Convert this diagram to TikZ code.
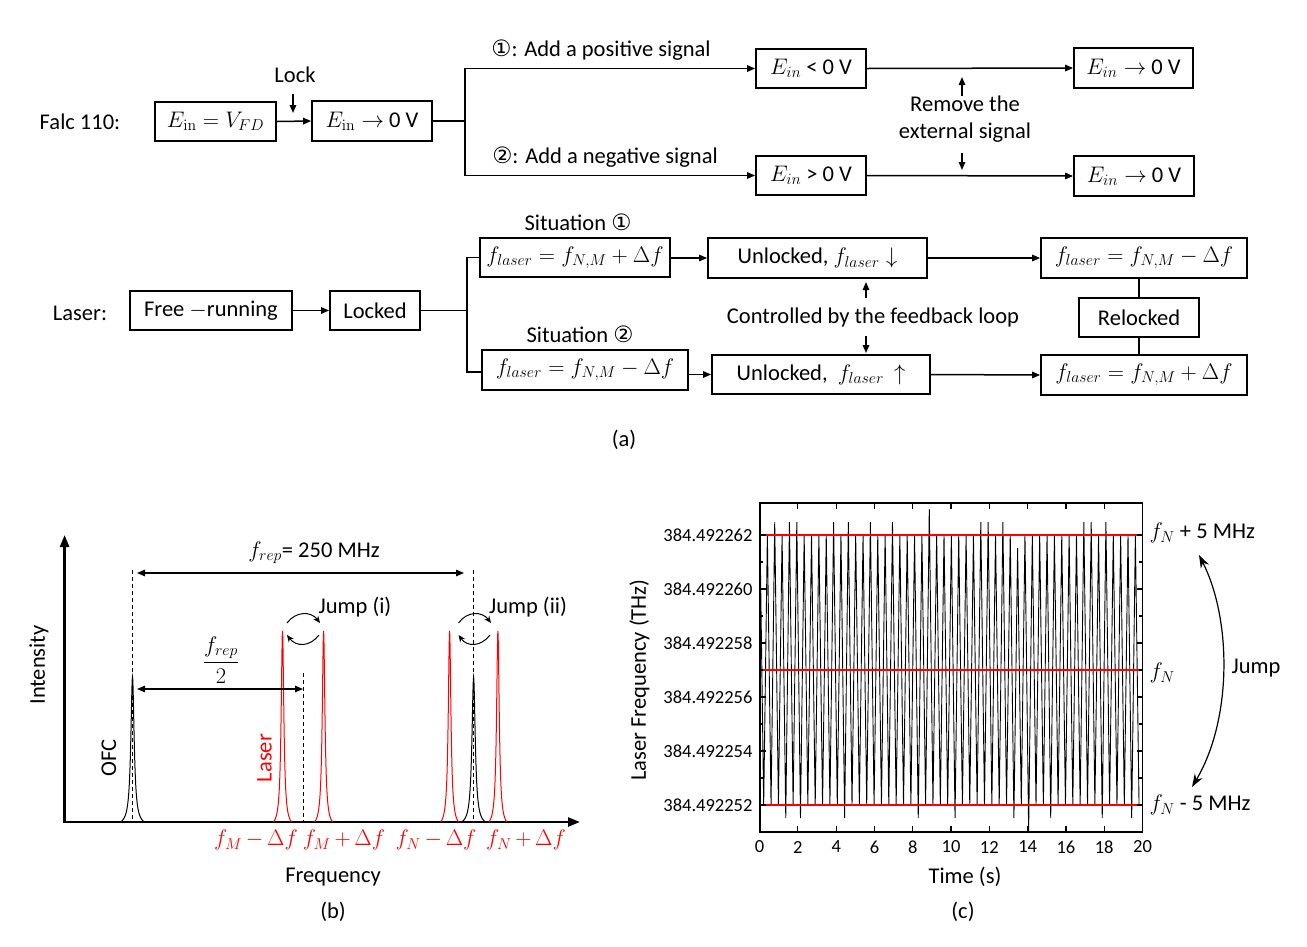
\RequirePackage{fix-cm}
\documentclass[tikz,border=0pt]{standalone}
\usepackage{amsmath}
\usepackage[no-math]{fontspec}
\setmainfont{Carlito}
\newfontfamily\symf{DejaVu Sans}
\usetikzlibrary{arrows.meta}
\tikzset{
  box/.style={draw, line width=1.8pt, inner sep=0pt, align=center},
  ln/.style={line width=1.5pt},
  arr/.style={ln, -{Triangle[length=8pt,width=6.5pt]}},
  dbl/.style={line width=1.2pt, {Triangle[length=8pt,width=6.5pt]}-{Triangle[length=8pt,width=6.5pt]}},
  pk/.style={line width=1pt},
  dsh/.style={line width=1pt, dashed, dash pattern=on 4pt off 3pt},
  jmp/.style={line width=1pt, -{Stealth[length=7pt,width=6pt]}},
  tick/.style={font=\fontsize{18.5}{22}\selectfont},
  redline/.style={line width=2pt, red},
  flab/.style={red, execute at begin node={\medmuskip=3mu}},
}
\begin{document}
\begin{tikzpicture}[x=1pt, y=-1pt, font=\fontsize{22.5}{27}\selectfont]
\useasboundingbox (0,0) rectangle (1307,946);

% ================= (a) top: Falc 110 =================
\node (falc) at (80,122) {Falc 110:};
\node[box, minimum width=121pt, minimum height=39pt] (A1) at (215.5,121.5) {$E_{\mathrm{in}} = V_{FD}$};
\node[box, minimum width=120pt, minimum height=40pt] (A2) at (372,121) {$E_{\mathrm{in}} \rightarrow$ 0 V};
\node (lock) at (295,75) {Lock};
\coordinate (lockA) at (293,94);
\coordinate (lockB) at (293,113);
\draw[arr] (A1.east) -- (A2.west);
\draw[arr] (lockA) -- (lockB);

\node[box, minimum width=110pt, minimum height=39pt] (B1) at (811,68.5) {$E_{in}$ < 0 V};
\node[box, minimum width=110pt, minimum height=39pt] (B2) at (811,175.5) {$E_{in}$ > 0 V};
\node[box, minimum width=119pt, minimum height=40pt] (C1) at (1133.5,68) {$E_{in} \rightarrow$ 0 V};
\node[box, minimum width=120pt, minimum height=40pt] (C2) at (1134,176) {$E_{in} \rightarrow$ 0 V};
\node (pos) at (601,50) {{\symf ①}: Add a positive signal};
\node (neg) at (605,157) {{\symf ②}: Add a negative signal};

\draw[ln] (A2.east) -- (465,121) coordinate (j1);
\draw[arr] (j1) |- (B1.west);
\draw[arr] (j1) |- (B2.west);
\draw[arr] (B1.east) -- (C1.west);
\draw[arr] (B2.east) -- (C2.west);

\node[align=center, inner sep=0pt] (remove) at (965,119) {Remove the\\external signal};
\coordinate (remA) at (962,96);
\coordinate (remB) at (962,77);
\coordinate (remC) at (962,153);
\coordinate (remD) at (962,170);
\draw[arr] (remA) -- (remB);
\draw[arr] (remC) -- (remD);

% ================= (a) bottom: Laser =================
\node (laser) at (80,313) {Laser:};
\node[box, minimum width=162pt, minimum height=39pt] (D1) at (211,310.5) {Free $-$running};
\node[box, minimum width=90pt, minimum height=39pt] (D2) at (375,310.5) {Locked};
\draw[arr] (D1.east) -- (D2.west);

\node[box, minimum width=190pt, minimum height=39pt] (E1) at (575,257.5) {$f_{laser} = f_{N,M} + \Delta f$};
\node[box, minimum width=206pt, minimum height=40pt] (E2) at (585,370) {$f_{laser} = f_{N,M} - \Delta f$};
\node (sit1) at (578,222) {Situation {\symf ①}};
\node (sit2) at (580,334) {Situation {\symf ②}};

\draw[ln] (D2.east) -- (467,310.5) coordinate (j2);
\draw[ln] (j2) |- (E1.west);
\draw[ln] (j2) |- ([yshift=-2pt]E2.west);

\node[box, minimum width=219pt, minimum height=40pt] (F1) at (817.5,258) {Unlocked, $f_{laser}\downarrow$};
\node[box, minimum width=218pt, minimum height=39pt] (F2) at (821,374.5) {Unlocked, \ $f_{laser}\,\uparrow$};
\draw[arr] (E1.east |- F1.west) -- (F1.west);
\draw[arr] (E2.east |- F2.west) -- (F2.west);

\node (ctrl) at (873,317) {Controlled by the feedback loop};
\coordinate (ctA) at (866,298);
\coordinate (ctB) at (866,282);
\coordinate (ctC) at (866,336);
\coordinate (ctD) at (866,353);
\draw[arr] (ctA) -- (ctB);
\draw[arr] (ctC) -- (ctD);

\node[box, minimum width=206pt, minimum height=40pt] (G1) at (1144,258) {$f_{laser} = f_{N,M} - \Delta f$};
\node[box, minimum width=206pt, minimum height=40pt] (G2) at (1144,375) {$f_{laser} = f_{N,M} + \Delta f$};
\node[box, minimum width=120pt, minimum height=39pt] (R) at (1139,317.5) {Relocked};
\draw[arr] (F1.east) -- (G1.west);
\draw[arr] (F2.east) -- (G2.west);
\draw[ln] (G1.south -| R.north) -- (R.north);
\draw[ln] (R.south) -- (G2.north -| R.south);

\node (capa) at (624,440) {(a)};

% ================= (b) =================
\draw[line width=2.5pt, {Triangle[length=12pt,width=9pt]}-{Triangle[length=12pt,width=9pt]}] (64.6,535) -- (64.6,822) -- (580,822);
\node[rotate=90] (inten) at (39,665) {Intensity};
\node (freq) at (333,877) {Frequency};
\node (capb) at (333,912) {(b)};

% comb lines (black)
\foreach \c in {132.5,473.6}
  \draw[pk] plot[domain=-12:12, samples=97] ({\c+\x},{822-145*(4/(\x*\x+4)-0.02703)/0.97297});
% laser lines (red)
\foreach \c in {282.5,323.6,449.6,497.9}
  \draw[pk, red] plot[domain=-9:9, samples=73] ({\c+\x},{822-191*(2.56/(\x*\x+2.56)-0.03064)/0.96936});

\draw[dsh] (132.5,570) -- (132.5,822);
\draw[dsh] (473.6,570) -- (473.6,822);
\draw[dsh] (303,673) -- (303,822);

\coordinate (fr1) at (137,573);
\coordinate (fr2) at (464,573);
\draw[dbl] (fr1) -- (fr2);
\node (frep) at (314,553) {$f_{rep}$= 250 MHz};
\coordinate (fh1) at (137,689);
\coordinate (fh2) at (303,689);
\draw[dbl] (fh1) -- (fh2);
\node (frep2) at (221,660) {$\dfrac{f_{rep}}{2}$};

\node[rotate=90] (ofc) at (109,758) {OFC};
\node[rotate=90, red] (las) at (264.6,758) {Laser};

\draw[jmp] (287,623) .. controls (296,611) and (311,611) .. (320,623);
\draw[jmp] (319,635) .. controls (310,647) and (296,647) .. (287,635);
\node (j1lab) at (355,607) {Jump (i)};
\draw[jmp] (458.6,623) .. controls (467,611) and (482,611) .. (491,623);
\draw[jmp] (490,635) .. controls (481,647) and (467,647) .. (458.6,635);
\node (j2lab) at (528,607) {Jump (ii)};

\node[flab] (l1) at (256,840) {$f_M - \Delta f$};
\node[flab] (l2) at (344,840) {$f_M + \Delta f$};
\node[flab] (l3) at (436,840) {$f_N - \Delta f$};
\node[flab] (l4) at (526,840) {$f_N + \Delta f$};

% ================= (c) =================
\begin{scope}
\clip (759.6,503) rectangle (1142.5,832);
\draw[line width=0.9pt] (760,670)
  \foreach \i/\t/\b in {0/0/0,1/0/0,2/1/0,3/0/1,4/1/0,5/1/1,6/0/0,7/0/0,8/0/0,9/0/0,10/1/0,11/0/1,12/1/0,13/0/0,14/0/0,15/1/0,16/0/0,17/0/0,18/1/0,19/0/0,20/0/0,21/0/1,22/0/0,23/2/0,24/0/0,25/0/0,26/0/1,27/0/0,28/0/0,29/0/0,30/1/0,31/1/0,32/0/0,33/1/0,34/0/1,35/-1/0,36/0/2,37/0/0,38/0/0,39/0/1,40/0/0,41/0/0,42/0/0,43/0/0,44/1/0,45/1/0,46/0/1,47/1/0,48/0/0,49/0/0,50/0/1,51/0/0}
  { -- ({760+\i*7.36},{535-13*(\t)}) -- ({763.68+\i*7.36},{805+13*(\b)}) };
\end{scope}
\draw[redline] (759.6,535) -- (1142.5,535);
\draw[redline] (759.6,670) -- (1142.5,670);
\draw[redline] (759.6,805) -- (1142.5,805);
\draw[line width=1.8pt] (759.6,503) rectangle (1142.5,832);

\foreach \y/\l in {535/262,589/260,643/258,697/256,751/254,805/252} {
  \draw[line width=1.2pt] (759.6,\y) -- ++(6,0);
  \draw[line width=1.2pt] (1142.5,\y) -- ++(-6,0);
  \node[tick, anchor=east] at (756,\y) {384.492\l};
}
\foreach \y in {562,616,670,724,778} {
  \draw[line width=1.2pt] (759.6,\y) -- ++(3.5,0);
  \draw[line width=1.2pt] (1142.5,\y) -- ++(-3.5,0);
}
\foreach \t in {0,2,...,20} {
  \draw[line width=1.2pt] ({759.6+\t*19.145},832) -- ++(0,-6);
  \draw[line width=1.2pt] ({759.6+\t*19.145},503) -- ++(0,6);
  \node[tick] at ({759.6+\t*19.145},847) {\t};
}
\node (time) at (965,877) {Time (s)};
\node[rotate=90] (ylab) at (639.5,680) {Laser Frequency (THz)};
\node[anchor=west] (fp) at (1146,533) {$f_N$ + 5 MHz};
\node[anchor=west] (f0) at (1146,673) {$f_N$};
\node[anchor=west] (fm) at (1146,805) {$f_N$ - 5 MHz};
\node (jump) at (1256,668) {Jump};
\coordinate (ja) at (1199,555);
\coordinate (jb) at (1192,787);
\draw[line width=1.2pt, {Stealth[length=13pt,width=9pt]}-{Stealth[length=13pt,width=9pt]}] (ja) .. controls (1232,620) and (1232,720) .. (jb);
\node (capc) at (963,912) {(c)};
\end{tikzpicture}
\end{document}
